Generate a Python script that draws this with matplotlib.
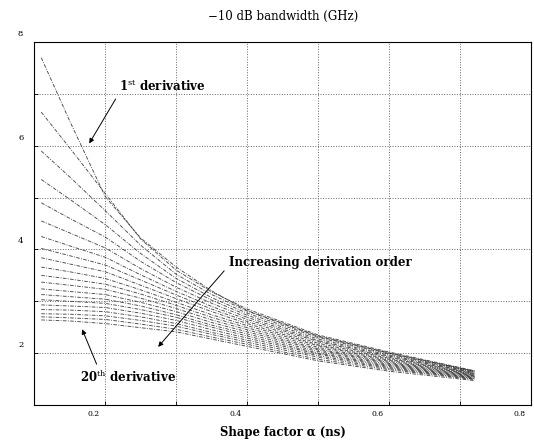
import numpy as np
import matplotlib.pyplot as plt
import matplotlib.transforms as mtransforms

plt.rcParams['font.family'] = ['DejaVu Serif']
plt.rcParams['mathtext.fontset'] = 'dejavuserif'

# shape factor alpha (ns) where the curves were read
alpha = [0.11, 0.15, 0.2, 0.25, 0.3, 0.35, 0.4, 0.5, 0.6, 0.72]

# -10 dB bandwidth (GHz), one row per derivative order 1..20
bw = [
    [7.70, 6.48, 5.02, 4.22, 3.66, 3.20, 2.82, 2.33, 2.00, 1.65],
    [6.65, 5.96, 5.08, 4.20, 3.60, 3.18, 2.85, 2.35, 2.02, 1.66],
    [5.90, 5.40, 4.75, 4.08, 3.52, 3.13, 2.81, 2.32, 2.00, 1.65],
    [5.35, 4.97, 4.48, 3.92, 3.44, 3.07, 2.77, 2.30, 1.98, 1.64],
    [4.90, 4.60, 4.24, 3.77, 3.36, 3.02, 2.73, 2.27, 1.96, 1.63],
    [4.55, 4.32, 4.03, 3.63, 3.27, 2.96, 2.69, 2.24, 1.94, 1.62],
    [4.25, 4.07, 3.85, 3.51, 3.19, 2.90, 2.65, 2.22, 1.92, 1.61],
    [4.02, 3.88, 3.70, 3.41, 3.12, 2.85, 2.61, 2.19, 1.90, 1.60],
    [3.84, 3.72, 3.57, 3.31, 3.05, 2.80, 2.57, 2.16, 1.88, 1.59],
    [3.66, 3.57, 3.44, 3.22, 2.98, 2.74, 2.53, 2.14, 1.86, 1.58],
    [3.50, 3.43, 3.33, 3.14, 2.92, 2.69, 2.49, 2.11, 1.84, 1.57],
    [3.37, 3.31, 3.23, 3.06, 2.86, 2.64, 2.45, 2.08, 1.82, 1.56],
    [3.24, 3.19, 3.13, 2.98, 2.80, 2.59, 2.41, 2.06, 1.80, 1.55],
    [3.13, 3.09, 3.04, 2.91, 2.74, 2.54, 2.37, 2.03, 1.78, 1.54],
    [3.03, 3.00, 2.96, 2.84, 2.69, 2.50, 2.33, 2.00, 1.76, 1.53],
    [2.93, 2.91, 2.88, 2.77, 2.63, 2.45, 2.29, 1.98, 1.74, 1.52],
    [2.84, 2.83, 2.80, 2.70, 2.57, 2.40, 2.25, 1.95, 1.72, 1.51],
    [2.76, 2.75, 2.72, 2.63, 2.52, 2.36, 2.21, 1.92, 1.70, 1.50],
    [2.70, 2.68, 2.65, 2.56, 2.46, 2.31, 2.17, 1.88, 1.68, 1.49],
    [2.64, 2.62, 2.57, 2.49, 2.41, 2.27, 2.13, 1.85, 1.65, 1.47],
]

x_ticks = [0.1, 0.2, 0.3, 0.4, 0.5, 0.6, 0.7, 0.8]
x_labels = ['', '0.2', '', '0.4', '', '0.6', '', '0.8']
y_ticks = [1, 2, 3, 4, 5, 6, 7, 8]
y_labels = ['', '2', '', '4', '', '6', '', '8']

fig = plt.figure(figsize=(5.34, 4.44), dpi=100)
ax = fig.add_axes([0.064, 0.088, 0.931, 0.817])

for row in bw:
    ax.plot(alpha, row, color='#2a2a2a', lw=0.65, ls=(0, (4, 1.5, 1, 1.5)), alpha=0.85)

ax.set_xlim(0.1, 0.8)
ax.set_ylim(1, 8)
ax.set_xticks(x_ticks)
ax.set_xticklabels(x_labels, fontsize=5.5)
ax.set_yticks(y_ticks)
ax.set_yticklabels(y_labels, fontsize=6)
ax.tick_params(direction='in', length=3, width=0.6)
ax.grid(True, ls=':', color='#666666', lw=0.7)
for s in ax.spines.values():
    s.set_linewidth(0.8)

# scanned labels sit a bit off their ticks
for lab in ax.get_xticklabels():
    lab.set_transform(lab.get_transform() + mtransforms.ScaledTranslation(-0.12, 0, fig.dpi_scale_trans))
for lab in ax.get_yticklabels():
    lab.set_transform(lab.get_transform() + mtransforms.ScaledTranslation(-0.06, 0.09, fig.dpi_scale_trans))

fig.text(0.53, 0.962, '\u221210 dB bandwidth (GHz)', ha='center', va='center', fontsize=8.5)
fig.text(0.53, 0.025, 'Shape factor \u03b1 (ns)', ha='center', va='center', fontsize=8.4, fontweight='bold')

arw = dict(arrowstyle='-|>', color='black', lw=0.7, mutation_scale=7)
ax.annotate(r'1$^{\rm st}$ derivative', xy=(0.1755, 6.0), xytext=(0.219, 7.15),
            fontsize=8.5, fontweight='bold', va='center',
            arrowprops=dict(arw, relpos=(0.0, 0.0)))
ax.annotate('Increasing derivation order', xy=(0.272, 2.08), xytext=(0.374, 3.74),
            fontsize=8.5, fontweight='bold', va='center',
            arrowprops=dict(arw, relpos=(0.0, 0.3)))
ax.annotate(r'20$^{\rm th}$ derivative', xy=(0.166, 2.51), xytext=(0.164, 1.53),
            fontsize=8.5, fontweight='bold', va='center',
            arrowprops=dict(arw, relpos=(0.2, 1.0)))

fig.savefig('out.png', dpi=100)
